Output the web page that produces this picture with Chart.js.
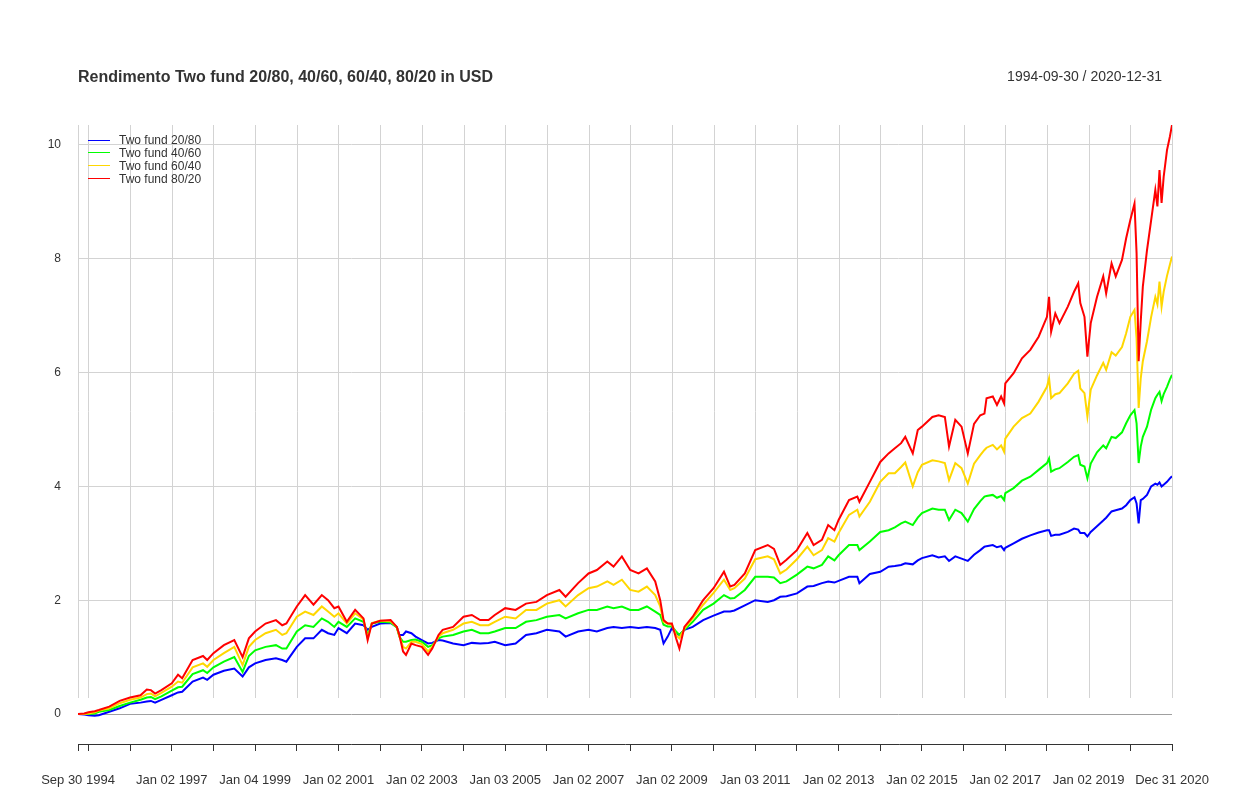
<!DOCTYPE html>
<html>
<head>
<meta charset="utf-8">
<script src="https://cdn.jsdelivr.net/npm/chart.js@4.4.0/dist/chart.umd.min.js"></script>
<style>
html,body{margin:0;padding:0;background:#ffffff;}
#wrap{width:1250px;height:796px;position:relative;}
</style>
</head>
<body>
<div id="wrap"><canvas id="c" width="1250" height="796"></canvas></div>
<script>
const titleText = 'Rendimento Two fund 20/80, 40/60, 60/40, 80/20 in USD';
const periodText = '1994-09-30 / 2020-12-31';
const seriesNames = ['Two fund 20/80', 'Two fund 40/60', 'Two fund 60/40', 'Two fund 80/20'];
const seriesColors = ['#0000FF', '#00FF00', '#FFD700', '#FF0000'];

// decimal years
const dates = [
  1994.75, 1994.9, 1995.0, 1995.15, 1995.25, 1995.5, 1995.75, 1996.0, 1996.25, 1996.4,
  1996.5, 1996.6, 1996.75, 1997.0, 1997.15, 1997.25, 1997.5, 1997.75, 1997.85, 1998.0,
  1998.25, 1998.5, 1998.7, 1998.85, 1999.0, 1999.25, 1999.5, 1999.65, 1999.75, 2000.0,
  2000.2, 2000.4, 2000.6, 2000.75, 2000.9, 2001.0, 2001.2, 2001.4, 2001.6, 2001.7,
  2001.8, 2002.0, 2002.25, 2002.4, 2002.46, 2002.55, 2002.62, 2002.75, 2002.85, 2003.0,
  2003.15, 2003.25, 2003.4, 2003.5, 2003.75, 2004.0, 2004.2, 2004.4, 2004.6, 2004.75,
  2005.0, 2005.25, 2005.5, 2005.75, 2006.0, 2006.3, 2006.45, 2006.75, 2007.0, 2007.2,
  2007.45, 2007.6, 2007.8, 2008.0, 2008.2, 2008.4, 2008.6, 2008.72, 2008.8, 2008.9,
  2009.0, 2009.1, 2009.18, 2009.3, 2009.5, 2009.75, 2010.0, 2010.25, 2010.4, 2010.5,
  2010.75, 2011.0, 2011.3, 2011.45, 2011.6, 2011.75, 2012.0, 2012.25, 2012.4, 2012.6,
  2012.75, 2012.9, 2013.0, 2013.25, 2013.45, 2013.5, 2013.75, 2014.0, 2014.2, 2014.35,
  2014.5, 2014.6, 2014.78, 2014.9, 2015.0, 2015.25, 2015.4, 2015.55, 2015.65, 2015.8,
  2015.95, 2016.1, 2016.25, 2016.4, 2016.5, 2016.55, 2016.7, 2016.8, 2016.9, 2016.97,
  2017.0, 2017.2, 2017.4, 2017.6, 2017.8, 2018.0, 2018.05, 2018.1, 2018.2, 2018.3,
  2018.5, 2018.65, 2018.75, 2018.8, 2018.9, 2018.97, 2019.05, 2019.2, 2019.35, 2019.42,
  2019.55, 2019.65, 2019.8, 2019.9, 2020.0, 2020.1, 2020.15, 2020.2, 2020.25, 2020.3,
  2020.4, 2020.5, 2020.6, 2020.65, 2020.7, 2020.75, 2020.8, 2020.88, 2020.95, 2021.0
];

const fund2080 = [
  0, -0.01, -0.02, -0.03, -0.02, 0.04, 0.10, 0.18, 0.20, 0.22,
  0.23, 0.20, 0.25, 0.33, 0.38, 0.39, 0.57, 0.64, 0.60, 0.69,
  0.76, 0.80, 0.66, 0.82, 0.89, 0.95, 0.98, 0.95, 0.92, 1.18,
  1.33, 1.33, 1.48, 1.42, 1.39, 1.51, 1.42, 1.59, 1.56, 1.48,
  1.53, 1.59, 1.60, 1.53, 1.39, 1.39, 1.45, 1.42, 1.36, 1.30,
  1.24, 1.25, 1.30, 1.29, 1.24, 1.21, 1.25, 1.24, 1.25, 1.27,
  1.21, 1.24, 1.39, 1.42, 1.48, 1.45, 1.36, 1.45, 1.48, 1.45,
  1.51, 1.53, 1.51, 1.53, 1.51, 1.53, 1.51, 1.48, 1.24, 1.36,
  1.51, 1.42, 1.39, 1.48, 1.53, 1.65, 1.73, 1.80, 1.80, 1.82,
  1.91, 2.00, 1.97, 2.00, 2.06, 2.07, 2.12, 2.24, 2.25, 2.30,
  2.33, 2.31, 2.34, 2.41, 2.41, 2.30, 2.46, 2.50, 2.59, 2.60,
  2.62, 2.65, 2.63, 2.70, 2.74, 2.79, 2.75, 2.77, 2.69, 2.77,
  2.73, 2.69, 2.80, 2.88, 2.94, 2.95, 2.97, 2.93, 2.95, 2.88,
  2.92, 3.00, 3.08, 3.14, 3.19, 3.23, 3.23, 3.13, 3.15, 3.15,
  3.20, 3.26, 3.24, 3.18, 3.18, 3.12, 3.20, 3.30, 3.40, 3.45,
  3.56, 3.58, 3.61, 3.67, 3.76, 3.81, 3.70, 3.35, 3.76, 3.78,
  3.85, 4.00, 4.05, 4.03, 4.07, 4.00, 4.03, 4.08, 4.14, 4.18
];

const fund4060 = [
  0, 0.00, 0.00, 0.01, 0.04, 0.07, 0.14, 0.20, 0.25, 0.29,
  0.30, 0.26, 0.31, 0.41, 0.47, 0.48, 0.70, 0.77, 0.72, 0.82,
  0.92, 1.00, 0.74, 1.02, 1.12, 1.18, 1.21, 1.15, 1.15, 1.45,
  1.56, 1.53, 1.68, 1.62, 1.53, 1.62, 1.53, 1.68, 1.62, 1.39,
  1.59, 1.62, 1.61, 1.52, 1.36, 1.27, 1.27, 1.30, 1.31, 1.27,
  1.18, 1.21, 1.33, 1.36, 1.39, 1.45, 1.48, 1.42, 1.42, 1.45,
  1.51, 1.51, 1.62, 1.65, 1.71, 1.74, 1.68, 1.77, 1.83, 1.83,
  1.89, 1.86, 1.89, 1.83, 1.83, 1.89, 1.80, 1.74, 1.57, 1.54,
  1.54, 1.45, 1.39, 1.48, 1.62, 1.83, 1.94, 2.09, 2.03, 2.04,
  2.18, 2.41, 2.41, 2.40, 2.30, 2.33, 2.45, 2.59, 2.56, 2.62,
  2.77, 2.70, 2.79, 2.97, 2.97, 2.88, 3.03, 3.20, 3.23, 3.28,
  3.35, 3.38, 3.32, 3.45, 3.53, 3.61, 3.59, 3.59, 3.41, 3.59,
  3.53, 3.38, 3.60, 3.74, 3.82, 3.83, 3.85, 3.80, 3.83, 3.76,
  3.88, 3.97, 4.10, 4.17, 4.29, 4.41, 4.49, 4.26, 4.30, 4.32,
  4.43, 4.52, 4.55, 4.38, 4.35, 4.14, 4.40, 4.60, 4.72, 4.67,
  4.87, 4.85, 4.95, 5.11, 5.25, 5.34, 5.11, 4.41, 4.70, 4.87,
  5.05, 5.35, 5.55, 5.61, 5.66, 5.50, 5.62, 5.75, 5.88, 5.96
];

const fund6040 = [
  0, 0.00, 0.01, 0.03, 0.06, 0.10, 0.19, 0.25, 0.29, 0.35,
  0.36, 0.31, 0.37, 0.48, 0.57, 0.55, 0.82, 0.89, 0.83, 0.95,
  1.07, 1.18, 0.86, 1.18, 1.30, 1.42, 1.48, 1.39, 1.42, 1.71,
  1.80, 1.74, 1.89, 1.80, 1.71, 1.77, 1.59, 1.77, 1.66, 1.33,
  1.60, 1.64, 1.63, 1.53, 1.37, 1.18, 1.15, 1.27, 1.27, 1.23,
  1.10, 1.18, 1.36, 1.42, 1.48, 1.59, 1.62, 1.56, 1.56, 1.62,
  1.71, 1.68, 1.83, 1.83, 1.94, 2.00, 1.89, 2.09, 2.21, 2.24,
  2.33, 2.27, 2.36, 2.18, 2.15, 2.24, 2.09, 1.89, 1.62, 1.59,
  1.57, 1.39, 1.33, 1.50, 1.68, 1.92, 2.13, 2.36, 2.18, 2.21,
  2.38, 2.72, 2.77, 2.72, 2.47, 2.54, 2.72, 2.94, 2.79, 2.88,
  3.09, 3.03, 3.18, 3.50, 3.59, 3.47, 3.73, 4.08, 4.23, 4.23,
  4.34, 4.42, 4.00, 4.25, 4.38, 4.46, 4.44, 4.41, 4.11, 4.41,
  4.32, 4.05, 4.40, 4.55, 4.64, 4.68, 4.73, 4.65, 4.72, 4.61,
  4.84, 5.05, 5.20, 5.28, 5.49, 5.75, 5.90, 5.55, 5.62, 5.64,
  5.81, 5.98, 6.03, 5.72, 5.64, 5.23, 5.70, 5.95, 6.17, 6.05,
  6.36, 6.30, 6.45, 6.69, 6.98, 7.10, 6.60, 5.38, 5.90, 6.20,
  6.55, 6.98, 7.33, 7.20, 7.60, 7.16, 7.42, 7.70, 7.90, 8.04
];

const fund8020 = [
  0, 0.01, 0.03, 0.05, 0.07, 0.13, 0.23, 0.29, 0.33, 0.43,
  0.42, 0.36, 0.42, 0.54, 0.69, 0.63, 0.95, 1.02, 0.95, 1.07,
  1.21, 1.30, 1.00, 1.33, 1.45, 1.59, 1.65, 1.56, 1.59, 1.89,
  2.09, 1.92, 2.09, 2.00, 1.86, 1.89, 1.62, 1.83, 1.68, 1.30,
  1.59, 1.64, 1.65, 1.53, 1.39, 1.10, 1.04, 1.24, 1.21, 1.18,
  1.04, 1.15, 1.39, 1.48, 1.53, 1.71, 1.74, 1.65, 1.65, 1.74,
  1.86, 1.83, 1.94, 1.97, 2.09, 2.18, 2.06, 2.30, 2.47, 2.53,
  2.68, 2.59, 2.77, 2.53, 2.47, 2.56, 2.33, 2.00, 1.65, 1.59,
  1.59, 1.33, 1.15, 1.53, 1.71, 2.00, 2.21, 2.50, 2.24, 2.27,
  2.47, 2.88, 2.97, 2.90, 2.62, 2.71, 2.88, 3.18, 2.97, 3.06,
  3.32, 3.23, 3.41, 3.76, 3.82, 3.73, 4.08, 4.43, 4.58, 4.67,
  4.76, 4.87, 4.58, 4.99, 5.05, 5.22, 5.25, 5.22, 4.70, 5.17,
  5.05, 4.58, 5.10, 5.25, 5.28, 5.55, 5.58, 5.43, 5.58, 5.46,
  5.81, 5.99, 6.25, 6.40, 6.63, 6.98, 7.33, 6.72, 7.04, 6.87,
  7.16, 7.42, 7.57, 7.22, 6.98, 6.28, 6.87, 7.33, 7.69, 7.39,
  7.92, 7.69, 7.98, 8.36, 8.68, 8.97, 8.10, 6.20, 6.90, 7.51,
  8.15, 8.68, 9.21, 8.92, 9.56, 8.98, 9.44, 9.91, 10.15, 10.35
];

const xTickValues = [1994.75, 1995, 1996, 1997, 1998, 1999, 2000, 2001, 2002, 2003, 2004, 2005, 2006, 2007,
  2008, 2009, 2010, 2011, 2012, 2013, 2014, 2015, 2016, 2017, 2018, 2019, 2020, 2021];
const xTickLabels = ['Sep 30 1994', '', '', 'Jan 02 1997', '', 'Jan 04 1999', '', 'Jan 02 2001', '', 'Jan 02 2003', '',
  'Jan 03 2005', '', 'Jan 02 2007', '', 'Jan 02 2009', '', 'Jan 03 2011', '', 'Jan 02 2013', '', 'Jan 02 2015', '',
  'Jan 02 2017', '', 'Jan 02 2019', '', 'Dec 31 2020'];
const yTickValues = [0, 2, 4, 6, 8, 10];

const seriesValues = [fund2080, fund4060, fund6040, fund8020];
const FONT = '"Liberation Sans", Arial, sans-serif';

const vGridPlugin = {
  id: 'vgrid',
  beforeDatasetsDraw(chart) {
    const { ctx, chartArea, scales } = chart;
    const xs = scales.x;
    const bottom = chartArea.bottom - 46;
    ctx.save();
    ctx.strokeStyle = '#d3d3d3';
    ctx.lineWidth = 1;
    xs.ticks.forEach(t => {
      const px = Math.round(xs.getPixelForValue(t.value)) + 0.5;
      ctx.beginPath();
      ctx.moveTo(px, chartArea.top);
      ctx.lineTo(px, bottom);
      ctx.stroke();
    });
    ctx.restore();
  }
};

const textPlugin = {
  id: 'texts',
  afterDraw(chart) {
    const { ctx, chartArea } = chart;
    ctx.save();
    ctx.fillStyle = '#333333';
    ctx.textBaseline = 'alphabetic';
    ctx.font = 'bold 16px ' + FONT;
    ctx.textAlign = 'left';
    ctx.fillText(titleText, chartArea.left, 82);
    ctx.font = '14px ' + FONT;
    ctx.textAlign = 'right';
    ctx.fillText(periodText, chartArea.right - 10, 81);
    // legend
    ctx.font = '12px ' + FONT;
    ctx.textAlign = 'left';
    seriesNames.forEach((n, i) => {
      const yl = 139.5 + i * 12.9;
      ctx.strokeStyle = seriesColors[i];
      ctx.lineWidth = 1;
      ctx.beginPath();
      ctx.moveTo(chartArea.left + 10, Math.round(yl) + 0.5);
      ctx.lineTo(chartArea.left + 32, Math.round(yl) + 0.5);
      ctx.stroke();
      ctx.fillStyle = '#333333';
      ctx.fillText(n, chartArea.left + 41, yl + 4.5);
    });
    ctx.restore();
  }
};

new Chart(document.getElementById('c').getContext('2d'), {
  type: 'line',
  data: {
    datasets: seriesNames.map((n, i) => ({
      label: n,
      data: dates.map((d, j) => ({ x: d, y: seriesValues[i][j] })),
      borderColor: seriesColors[i],
      backgroundColor: seriesColors[i],
      borderWidth: 2,
      pointRadius: 0,
      tension: 0,
      fill: false,
      order: 3 - i
    }))
  },
  options: {
    responsive: false,
    animation: false,
    events: [],
    layout: { padding: { top: 125, right: 78, bottom: 0, left: 0 } },
    plugins: { legend: { display: false }, tooltip: { enabled: false }, title: { display: false } },
    scales: {
      x: {
        type: 'linear',
        min: 1994.75,
        max: 2021,
        afterBuildTicks: s => { s.ticks = xTickValues.map(v => ({ value: v })); },
        afterFit: s => { s.height = 52; },
        grid: { display: true, drawOnChartArea: false, drawTicks: true, tickLength: 7, color: '#333333', tickColor: '#333333' },
        border: { display: true, color: '#333333', width: 1 },
        ticks: {
          autoSkip: false, maxRotation: 0, minRotation: 0, padding: 22,
          color: '#333333', font: { family: FONT, size: 13 },
          callback: (v, i) => xTickLabels[i]
        }
      },
      y: {
        min: -0.527,
        max: 10.351,
        afterBuildTicks: s => { s.ticks = yTickValues.map(v => ({ value: v })); },
        afterFit: s => { s.width = 78; },
        grid: {
          drawTicks: false,
          lineWidth: 1,
          color: c => (c.tick && c.tick.value === 0) ? '#a0a0a0' : '#d3d3d3'
        },
        border: { display: false },
        ticks: { padding: 17, color: '#333333', font: { family: FONT, size: 12 }, callback: v => String(v) }
      }
    }
  },
  plugins: [vGridPlugin, textPlugin]
});
</script>
</body>
</html>
